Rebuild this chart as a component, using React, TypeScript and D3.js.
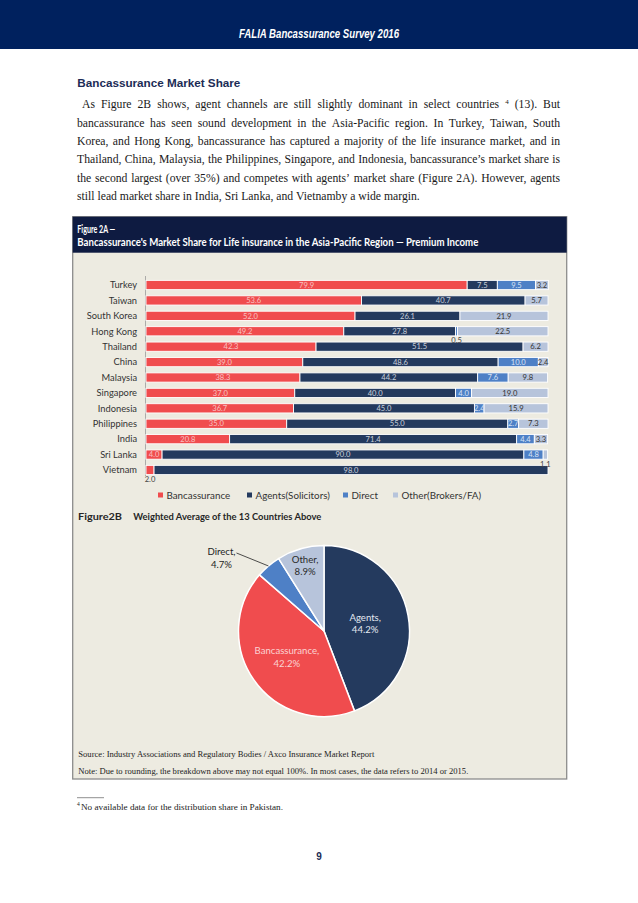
import React, { useMemo } from "react";
import * as d3 from "d3";

// ---------- data ----------
const countries = [
  "Turkey", "Taiwan", "South Korea", "Hong Kong", "Thailand", "China", "Malaysia",
  "Singapore", "Indonesia", "Philippines", "India", "Sri Lanka", "Vietnam",
];
const bancassurance = [79.9, 53.6, 52.0, 49.2, 42.3, 39.0, 38.3, 37.0, 36.7, 35.0, 20.8, 4.0, 2.0];
const agents = [7.5, 40.7, 26.1, 27.8, 51.5, 48.6, 44.2, 40.0, 45.0, 55.0, 71.4, 90.0, 98.0];
const direct = [9.5, 0, 0, 0.5, 0, 10.0, 7.6, 4.0, 2.4, 2.7, 4.4, 4.8, 0];
const other = [3.2, 5.7, 21.9, 22.5, 6.2, 2.4, 9.8, 19.0, 15.9, 7.3, 3.3, 1.1, 0];
const seriesKeys = ["banc", "agents", "direct", "other"];
const seriesNames = ["Bancassurance", "Agents(Solicitors)", "Direct", "Other(Brokers/FA)"];

const pieNames = ["Agents", "Bancassurance", "Direct", "Other"];
const pieValues = [44.2, 42.2, 4.7, 8.9];

const pageTitle = "FALIA Bancassurance Survey 2016";
const sectionTitle = "Bancassurance Market Share";
const paraLines = [
  "As Figure 2B shows, agent channels are still slightly dominant in select countries ^4 (13). But",
  "bancassurance has seen sound development in the Asia-Pacific region. In Turkey, Taiwan, South",
  "Korea, and Hong Kong, bancassurance has captured a majority of the life insurance market, and in",
  "Thailand, China, Malaysia, the Philippines, Singapore, and Indonesia, bancassurance\u2019s market share is",
  "the second largest (over 35%) and competes with agents\u2019 market share (Figure 2A). However, agents",
  "still lead market share in India, Sri Lanka, and Vietnamby a wide margin.",
];
const figTitle1 = "Figure 2A \u2014";
const figTitle2 = "Bancassurance's Market Share for Life insurance in the Asia-Pacific Region \u2014  Premium Income";
const fig2bLabel = "Figure2B";
const fig2bTitle = "Weighted Average of the 13 Countries Above";
const sourceText = "Source: Industry Associations and Regulatory Bodies / Axco Insurance Market Report";
const noteText = "Note: Due to rounding, the breakdown above may not equal 100%. In most cases, the data refers to 2014 or 2015.";
const footnoteText = "No available data for the distribution share in Pakistan.";
const pageNumber = "9";

// ---------- styles ----------
const COLORS = ["#F04C4E", "#243A5E", "#4E80C6", "#B7C4DB"];
const LABEL_COLORS = ["#F8C2C2", "#C9CFDA", "#D8E3F5", "#333333"];
const PIE_COLORS = [COLORS[1], COLORS[0], COLORS[2], COLORS[3]];
const PIE_LABEL_COLORS = ["#E3E8F0", "#FBD3D3", "#1e1e1e", "#2a2a2a"];
const CHART_FONT = "Lato, 'Open Sans', sans-serif";
const SERIF = "'Liberation Serif', 'Times New Roman', serif";
const SANS = "'Liberation Sans', Arial, sans-serif";
const PFONT = 11.7;

function usePara() {
  return useMemo(() => {
    const ctx = document.createElement("canvas").getContext("2d")!;
    const w = (t: string, s: number) => {
      ctx.font = `${s}px "Liberation Serif"`;
      return ctx.measureText(t).width;
    };
    return paraLines.map((line, i) => {
      const words = line.split(" ").map((t) =>
        t.startsWith("^") ? { t: t.slice(1), sup: true } : { t, sup: false }
      );
      const widths = words.map((wd) => w(wd.t, wd.sup ? PFONT * 0.6 : PFONT));
      const left = i === 0 ? 82 : 77;
      const right = 560;
      const total = widths.reduce((a, b) => a + b, 0);
      const justify = i < paraLines.length - 1;
      const gap = justify ? (right - left - total) / (words.length - 1) : w(" ", PFONT);
      let x = left;
      return words.map((wd, j) => {
        const r = { ...wd, x };
        x += widths[j] + gap;
        return r;
      });
    });
  }, []);
}

export default function App() {
  const para = usePara();

  const rows = countries.map((c, i) => ({
    country: c,
    banc: bancassurance[i],
    agents: agents[i],
    direct: direct[i],
    other: other[i],
  }));
  const stacked = d3.stack<any>().keys(seriesKeys)(rows);

  const x = d3.scaleLinear().domain([0, 100]).range([146, 548]);
  const y = d3
    .scaleBand<string>()
    .domain(countries)
    .range([277.3, 477.7])
    .paddingInner(0.4)
    .paddingOuter(0.2);
  const bw = y.bandwidth();

  // pie
  const cx = 324, cy = 631, R = 85.5;
  const pie = d3.pie<number>().sort(null).value((d) => d)(pieValues);
  const arc = d3.arc<d3.PieArcDatum<number>>().innerRadius(0).outerRadius(R);
  const labelR = [0.49, 0.53, 1.0, 0.8];

  const legendX = [158, 247, 343, 393];

  return (
    <svg
      width={638}
      height={903}
      style={{ position: "absolute", left: 0, top: 0, display: "block", background: "#fff" }}
    >
      {/* page header */}
      <rect x={0} y={0} width={638} height={49} fill="#00215E" />
      <text
        x={319}
        y={37.5}
        textAnchor="middle"
        fill="#fff"
        fontFamily={SANS}
        fontStyle="italic"
        fontWeight="bold"
        fontSize={12.5}
        textLength={160}
        lengthAdjust="spacingAndGlyphs"
      >
        {pageTitle}
      </text>

      {/* section heading */}
      <text x={77.3} y={87.3} fill="#1C2C56" fontFamily={SANS} fontWeight="bold" fontSize={11.7}>
        {sectionTitle}
      </text>

      {/* paragraph */}
      {para.map((words, i) => (
        <text key={i} y={108.3 + i * 18.35} fontFamily={SERIF} fontSize={PFONT} fill="#1a1a1a">
          {words.map((wd, j) =>
            wd.sup ? (
              <tspan key={j} x={wd.x} fontSize={PFONT * 0.6} baselineShift="super">
                {wd.t}
              </tspan>
            ) : (
              <tspan key={j} x={wd.x}>
                {wd.t}
              </tspan>
            )
          )}
        </text>
      ))}

      {/* figure box */}
      <rect x={72.7} y={216.7} width={494} height={562.3} fill="#EDEBE1" stroke="#8c8c8c" strokeWidth={1.3} />
      <rect x={72.7} y={216.7} width={494} height={36} fill="#0E1B41" />
      <text x={77.3} y={233.3} fill="#fff" fontFamily={CHART_FONT} fontWeight="bold" fontSize={10.5}
        textLength={38} lengthAdjust="spacingAndGlyphs">
        {figTitle1}
      </text>
      <text x={77.3} y={246.3} fill="#fff" fontFamily={CHART_FONT} fontWeight="bold" fontSize={10.5}
        textLength={401} lengthAdjust="spacingAndGlyphs">
        {figTitle2}
      </text>

      {/* bar chart axis line */}
      <line x1={145.5} x2={145.5} y1={276} y2={476} stroke="#9a9a9a" strokeWidth={0.8} />

      {/* country labels */}
      {countries.map((c) => (
        <text key={c} x={137} y={(y(c) ?? 0) + bw / 2 + 3.3} textAnchor="end" fontFamily={CHART_FONT}
          fontSize={9.3} fill="#333">
          {c}
        </text>
      ))}

      {/* bars */}
      {stacked.map((s, si) => (
        <g key={s.key}>
          {s.map((d, i) =>
            d[1] - d[0] > 0 ? (
              <rect
                key={i}
                x={x(d[0])}
                y={y(countries[i])}
                width={x(d[1]) - x(d[0])}
                height={bw}
                fill={COLORS[si]}
                stroke="#fff"
                strokeWidth={0.9}
              />
            ) : null
          )}
        </g>
      ))}

      {/* value labels */}
      {stacked.map((s, si) => (
        <g key={"l" + s.key}>
          {s.map((d, i) => {
            const v = d[1] - d[0];
            if (v <= 0) return null;
            const vv = [bancassurance, agents, direct, other][si][i];
            const mid = (x(d[0]) + x(d[1])) / 2;
            const top = y(countries[i]) ?? 0;
            const outside = vv <= 2.0;
            return (
              <text
                key={i}
                x={mid}
                y={outside ? top + bw + 7.3 : top + bw / 2 + 2.7}
                textAnchor="middle"
                fontFamily={CHART_FONT}
                fontSize={7.6}
                fill={outside ? "#444" : LABEL_COLORS[si]}
              >
                {vv.toFixed(1)}
              </text>
            );
          })}
        </g>
      ))}

      {/* legend */}
      {seriesNames.map((n, i) => (
        <g key={n}>
          <rect x={legendX[i]} y={492.5} width={5} height={5} fill={COLORS[i]} />
          <text x={legendX[i] + 8.5} y={498.5} fontFamily={CHART_FONT} fontSize={9.8} fill="#333">
            {n}
          </text>
        </g>
      ))}

      {/* figure 2B title */}
      <text x={78} y={520} fontFamily={CHART_FONT} fontWeight="bold" fontSize={10} fill="#262626"
        textLength={44} lengthAdjust="spacingAndGlyphs">
        {fig2bLabel}
      </text>
      <text x={133.3} y={520} fontFamily={CHART_FONT} fontWeight="bold" fontSize={10} fill="#262626"
        textLength={188} lengthAdjust="spacingAndGlyphs">
        {fig2bTitle}
      </text>

      {/* pie */}
      <g transform={`translate(${cx},${cy})`}>
        {pie.map((p, i) => (
          <path key={i} d={arc(p) ?? ""} fill={PIE_COLORS[i]} stroke="#fff" strokeWidth={1.5} />
        ))}
        {pie.map((p, i) => {
          const r = labelR[i] * R;
          const [px, py] = d3.arc<any>().innerRadius(r).outerRadius(r).centroid(p);
          let lx = px, ly = py;
          let leader: React.ReactNode = null;
          if (i === 2) {
            const ex = px - 32, ey = py - 13;
            leader = <line x1={px} y1={py} x2={ex} y2={ey} stroke="#222" strokeWidth={0.8} />;
            lx = ex - 15;
            ly = ey + 5;
          }
          return (
            <g key={"pl" + i}>
              {leader}
              <text textAnchor="middle" fontFamily={CHART_FONT} fontSize={9.6} fill={PIE_LABEL_COLORS[i]}>
                <tspan x={lx} y={ly - 2.75}>{pieNames[i] + ","}</tspan>
                <tspan x={lx} y={ly + 9.75}>{pieValues[i].toFixed(1) + "%"}</tspan>
              </text>
            </g>
          );
        })}
      </g>

      {/* source / note */}
      <text x={78.3} y={757} fontFamily={SERIF} fontSize={8.6} fill="#222" textLength={296} lengthAdjust="spacingAndGlyphs">
        {sourceText}
      </text>
      <text x={78.3} y={774} fontFamily={SERIF} fontSize={8.6} fill="#222" textLength={390} lengthAdjust="spacingAndGlyphs">
        {noteText}
      </text>

      {/* footnote */}
      <line x1={77} x2={104} y1={797.7} y2={797.7} stroke="#444" strokeWidth={0.6} />
      <text x={77} y={806} fontFamily={SERIF} fontSize={5.5} fill="#222">4</text>
      <text x={81} y={810} fontFamily={SERIF} fontSize={8.6} fill="#222" textLength={202} lengthAdjust="spacingAndGlyphs">
        {footnoteText}
      </text>

      {/* page number */}
      <text x={319} y={860} textAnchor="middle" fontFamily={SANS} fontWeight="bold" fontSize={10} fill="#1C2C56">
        {pageNumber}
      </text>
    </svg>
  );
}
